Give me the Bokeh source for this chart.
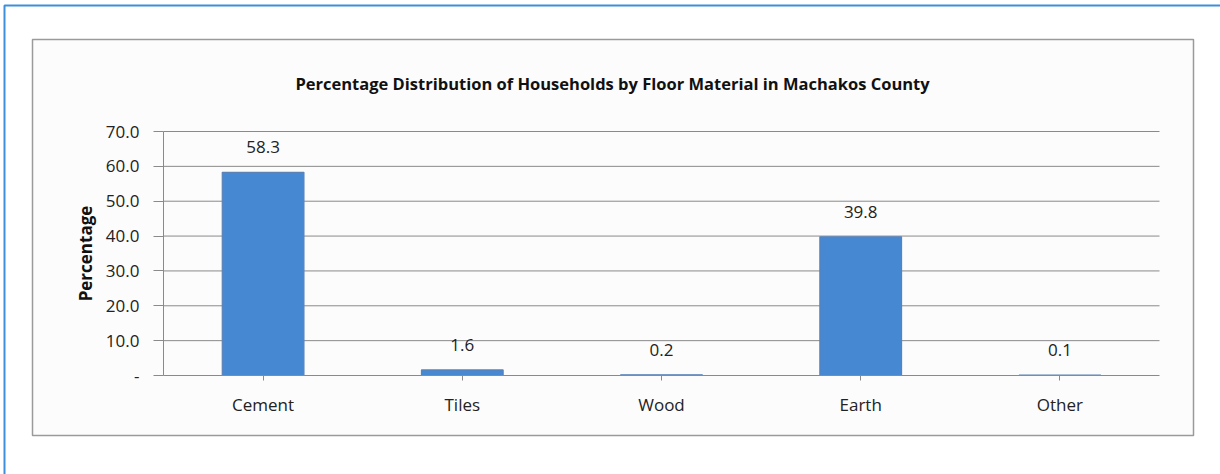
from bokeh.plotting import figure
from bokeh.models import (FixedTicker, ColumnDataSource, Label, LinearAxis,
                          BoxAnnotation, Range1d)
from bokeh.core.properties import value
from bokeh.embed import file_html
from bokeh.resources import INLINE

title_text = "Percentage Distribution of Households by Floor Material in Machakos County"
categories = ["Cement", "Tiles", "Wood", "Earth", "Other"]
percentages = [58.3, 1.6, 0.2, 39.8, 0.1]
value_labels = ["58.3", "1.6", "0.2", "39.8", "0.1"]
y_ticks = [0, 10, 20, 30, 40, 50, 60, 70]
y_tick_labels = ["-", "10.0", "20.0", "30.0", "40.0", "50.0", "60.0", "70.0"]
y_label = "Percentage"

FONT = "Open Sans"
FS = "17px"

# category slots: each category occupies one unit, centred on i + 0.5
xpos = [i + 0.5 for i in range(len(categories))]
src = ColumnDataSource(dict(x=xpos, val=percentages, lab=value_labels))

# canvas layout (pixels): plot area spans x 163..1159, y 131 (=70) .. 375 (=0)
W, H = 1220, 474
PA_L, PA_R, PA_T, PA_B = 163, 1159, 131, 375
YMAX = y_ticks[-1]
ppx = (PA_R - PA_L) / len(categories)
ppy = (PA_B - PA_T) / YMAX
x_range = Range1d(-PA_L / ppx, (W - PA_L) / ppx)
y_range = Range1d(-(H - PA_B) / ppy, YMAX + PA_T / ppy)

p = figure(width=W, height=H, x_range=x_range, y_range=y_range,
           output_backend="svg", toolbar_location=None,
           x_axis_location=None, y_axis_location=None,
           min_border_left=0, min_border_right=0,
           min_border_top=0, min_border_bottom=0)
p.background_fill_color = "white"
p.border_fill_color = "white"
p.outline_line_color = None
p.xgrid.visible = False
p.ygrid.visible = False

# decorative frames (screen units: origin at bottom-left of canvas, y up)
p.add_layout(BoxAnnotation(left=4, right=W + 20, top=H - 5, bottom=-20,
                           left_units="screen", right_units="screen",
                           top_units="screen", bottom_units="screen",
                           fill_color=None, line_color="#3d8fdc", line_width=2,
                           line_alpha=1.0, level="underlay"))
p.add_layout(BoxAnnotation(left=32, right=1193, top=H - 39, bottom=H - 435,
                           left_units="screen", right_units="screen",
                           top_units="screen", bottom_units="screen",
                           fill_color="#fcfcfc", fill_alpha=1.0,
                           line_color="#9a9a9a", line_width=1.5, line_alpha=1.0,
                           level="underlay"))

# horizontal gridlines across the plot area
p.segment(x0=0, x1=len(categories), y0=y_ticks[1:], y1=y_ticks[1:],
          line_color="#8a8a8a", line_width=1)

# bars
p.vbar(x="x", top="val", width=0.41, bottom=0, source=src,
       fill_color="#4689d2", line_color="#5a82b6", line_width=1.2)

# value labels
p.text(x="x", y="val", text="lab", source=src, y_offset=-25,
       text_align="center", text_baseline="middle",
       text_font=value(FONT), text_font_size=FS, text_color="#222222")

# y axis, drawn at x = 0
yax = LinearAxis(fixed_location=0, bounds=(0, YMAX))
yax.ticker = FixedTicker(ticks=y_ticks)
yax.major_label_overrides = {t: l for t, l in zip(y_ticks, y_tick_labels)}
yax.major_label_text_font = FONT
yax.major_label_text_font_size = FS
yax.major_label_text_color = "#222222"
yax.major_tick_out = 10
yax.major_tick_in = 0
yax.minor_tick_line_color = None
yax.major_label_standoff = 14
yax.axis_line_color = "#8a8a8a"
yax.major_tick_line_color = "#8a8a8a"
yax.axis_label = y_label
yax.axis_label_text_font = FONT
yax.axis_label_text_font_style = "bold"
yax.axis_label_text_font_size = FS
yax.axis_label_text_color = "#111111"
yax.axis_label_standoff = 6
p.add_layout(yax, "left")

# x (category) axis, drawn at y = 0
xax = LinearAxis(fixed_location=0, bounds=(0, len(categories)))
xax.ticker = FixedTicker(ticks=xpos)
xax.major_label_overrides = {x: c for x, c in zip(xpos, categories)}
xax.major_label_text_font = FONT
xax.major_label_text_font_size = FS
xax.major_label_text_color = "#222222"
xax.major_tick_out = 5
xax.major_tick_in = 0
xax.minor_tick_line_color = None
xax.major_label_standoff = 12
xax.axis_line_color = "#8a8a8a"
xax.major_tick_line_color = "#8a8a8a"
p.add_layout(xax, "below")

# chart title
p.add_layout(Label(x=612, y=H - 83, x_units="screen", y_units="screen",
                   text=title_text, text_align="center", text_baseline="middle",
                   text_font=FONT, text_font_style="bold", text_font_size="16.5px",
                   text_color="#111111"))

open("out.html", "w").write(file_html(p, INLINE))
